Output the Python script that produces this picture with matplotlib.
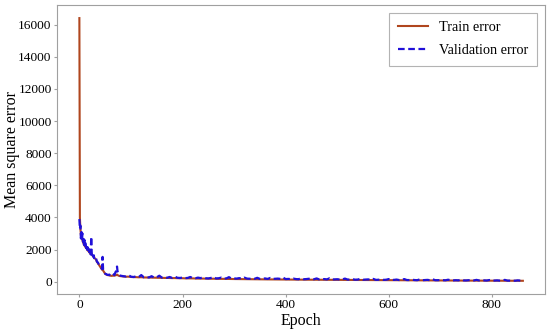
import matplotlib.pyplot as plt
import numpy as np

epochs_early = [0, 1, 2, 3, 4, 5, 6, 7, 8, 9, 10, 11, 12, 13, 14, 15, 16, 17, 18, 19,
                20, 21, 22, 23, 24, 25, 26, 27, 28, 29, 30, 32, 34, 36, 38, 40, 42, 44,
                45, 46, 48, 50, 52, 55, 58, 60, 62, 65, 68, 70, 72, 73, 74, 76, 78, 80,
                85, 90, 95, 100]
epochs_late = list(range(105, 861, 5))

train_early = [16400, 4000, 3300, 2900, 2800, 2650, 2600, 2450, 2400, 2300, 2250, 2200,
               2150, 2100, 2100, 2000, 1950, 1950, 1900, 1850, 1800, 1800, 1750, 1800,
               1700, 1650, 1600, 1600, 1550, 1500, 1450, 1400, 1250, 1150, 1050, 950,
               850, 750, 800, 700, 600, 500, 450, 420, 400, 380, 370, 380, 380, 400,
               420, 450, 420, 380, 360, 350, 330, 320, 320, 300]
train_late = [290, 290, 280, 285, 270, 270, 265, 262, 255, 250, 252, 245, 240, 242, 235, 230, 232, 225, 220, 222,
              215, 215, 210, 212, 205, 200, 202, 200, 195, 196, 190, 192, 185, 185, 180, 182, 178, 175, 176, 172,
              170, 171, 168, 165, 166, 162, 160, 161, 158, 155, 156, 152, 150, 151, 148, 146, 147, 144, 142, 140,
              140, 138, 137, 136, 134, 133, 132, 130, 130, 128, 127, 126, 125, 125, 123, 122, 121, 120, 120, 118,
              117, 116, 115, 115, 113, 112, 111, 110, 110, 108, 107, 106, 105, 105, 103, 102, 101, 100, 100, 98,
              97, 96, 96, 95, 94, 93, 92, 92, 91, 90, 89, 88, 88, 87, 86, 85, 85, 84, 83, 82,
              82, 81, 80, 80, 79, 78, 78, 77, 76, 76, 75, 74, 74, 73, 72, 72, 71, 70, 70, 69,
              69, 68, 67, 67, 66, 66, 65, 65, 64, 64, 63, 63]

val_early = [3900, 3300, 3500, 2700, 3100, 2600, 3000, 2500, 2800, 2300, 2600, 2250,
             2450, 2100, 2300, 2000, 2150, 1900, 2050, 1850, 1950, 1800, 1700, 2800,
             1750, 1600, 1700, 1550, 1650, 1400, 1450, 1500, 1250, 1200, 1050, 950,
             900, 800, 1550, 750, 600, 500, 480, 420, 450, 400, 380, 500, 420, 600,
             700, 950, 650, 500, 400, 380, 350, 330, 420, 320]
val_late = [300, 340, 290, 420, 280, 300, 270, 350, 260, 280, 380, 260, 270, 250, 300, 240, 330, 250, 240, 260,
            230, 240, 300, 230, 220, 260, 230, 280, 220, 210, 240, 300, 210, 220, 260, 200, 210, 290, 200, 210,
            200, 230, 190, 260, 200, 190, 220, 190, 250, 180, 190, 210, 180, 240, 180, 190, 200, 180, 260, 170,
            180, 170, 200, 170, 160, 230, 160, 170, 190, 160, 160, 210, 150, 160, 170, 150, 220, 150, 150, 160,
            140, 150, 200, 140, 140, 160, 130, 140, 190, 130, 140, 150, 130, 180, 120, 130, 150, 120, 130, 170,
            120, 120, 140, 110, 120, 170, 110, 110, 130, 110, 100, 150, 100, 110, 120, 100, 160, 100, 100, 110,
            100, 95, 130, 95, 90, 100, 90, 140, 90, 85, 100, 85, 85, 120, 85, 80, 90, 80, 110, 80,
            80, 90, 75, 80, 120, 75, 75, 80, 70, 90, 75, 70]

epochs = np.array(epochs_early + epochs_late)
train = np.array(train_early + train_late)
val = np.array(val_early + val_late)

plt.rcParams['font.family'] = ['Liberation Serif', 'DejaVu Serif']

fig = plt.figure(figsize=(5.5, 3.31), dpi=100)
ax = fig.add_axes([0.104, 0.112, 0.887, 0.873])

ax.plot(epochs, train, color='#B0461E', lw=1.5, label='Train error')
ax.plot(epochs, val, color='#2010D8', lw=1.6, ls='--', dashes=(3, 1.6), label='Validation error')

ax.set_xticks([0, 200, 400, 600, 800])
ax.set_yticks(np.arange(0, 16001, 2000))
ax.tick_params(length=2, color='#a0a0a0', labelsize=9.6, pad=2)
for s in ax.spines.values():
    s.set_color('#a0a0a0')

ax.set_xlabel('Epoch', fontsize=11.5, labelpad=1)
ax.set_ylabel('Mean square error', fontsize=11.5)
ax.yaxis.set_label_coords(-0.077, 0.5)

leg = ax.legend(loc='upper right', fontsize=10.3, fancybox=False, edgecolor='#a0a0a0',
                handlelength=2.1, borderpad=0.6, labelspacing=0.7, borderaxespad=0.55)
leg.get_frame().set_linewidth(0.8)

fig.savefig('out.png', dpi=100)
